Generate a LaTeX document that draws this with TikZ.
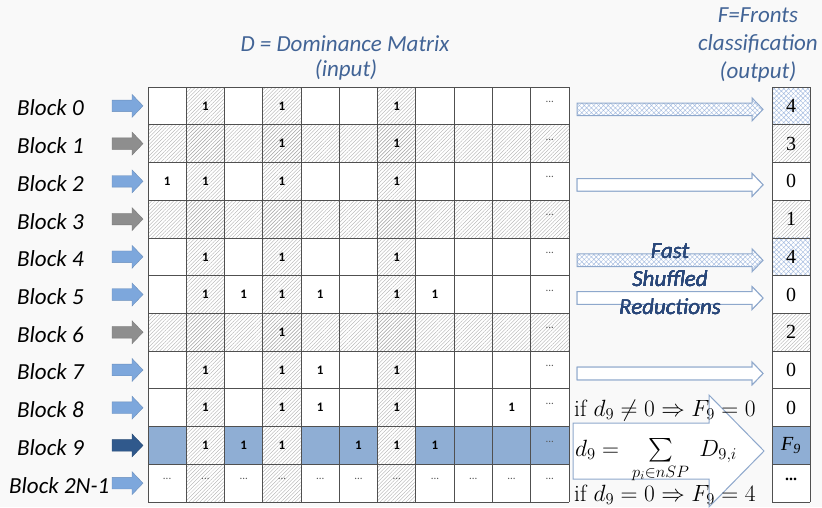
\RequirePackage{fix-cm}
\documentclass[tikz,border=0pt]{standalone}
\usepackage{amsmath,amssymb}
\usepackage{fontspec}
\usepackage{xcolor}
\usepackage{tikz}
\usetikzlibrary{patterns.meta}
\newfontfamily\calfont{Carlito}
\newfontfamily\timesfont{Liberation Serif}

\definecolor{bgcol}{RGB}{249,249,249}
\definecolor{rowblue}{RGB}{143,174,212}
\definecolor{arrblue}{RGB}{125,167,220}
\definecolor{arrgray}{RGB}{142,142,142}
\definecolor{arrdark}{RGB}{48,89,140}
\definecolor{titleblue}{RGB}{66,100,150}
\definecolor{fsrblue}{RGB}{42,72,122}
\definecolor{outblue}{RGB}{142,168,204}
\definecolor{hatchgray}{RGB}{172,172,172}
\definecolor{xhatch}{RGB}{165,188,224}
\definecolor{gridgray}{RGB}{80,80,80}

% block arrow: [opts]{x1}{x2}{y}{shaft half}{head half}{head length}
\newcommand{\fatarrow}[7][]{%
  \draw[#1] ({#2},{#4-#5}) -- ({#3-#7},{#4-#5}) -- ({#3-#7},{#4-#6}) -- ({#3},{#4})
    -- ({#3-#7},{#4+#6}) -- ({#3-#7},{#4+#5}) -- ({#2},{#4+#5}) -- cycle;}

\begin{document}
\begin{tikzpicture}[x=1pt, y=-1pt,
  hatched/.style={pattern={Lines[angle=45,distance=2.6pt,line width=0.35pt]}, pattern color=hatchgray},
  xhatched/.style={pattern={Hatch[angle=45,distance=3.4pt,line width=0.45pt]}, pattern color=xhatch},
  gridline/.style={gridgray, line width=0.8pt},
  blk/.style={font=\calfont\itshape\fontsize{23}{28}\selectfont, inner sep=0pt},
  one/.style={font=\calfont\bfseries\fontsize{13}{13}\selectfont, inner sep=0pt},
  dots/.style={font=\calfont\fontsize{11}{11}\selectfont, text=gray!70!black, inner sep=0pt},
  fval/.style={font=\timesfont\fontsize{20}{20}\selectfont, inner sep=0pt},
  fml/.style={font=\fontsize{23.5}{28}\selectfont, inner sep=0pt}]

  \useasboundingbox (0,0) rectangle (822,507);
  \fill[bgcol] (0,0) rectangle (822,507);

  % Dominance matrix cells
  \fill[white] (148,87) rectangle (569,502);
  \foreach \c in {0,2,4,5,7,8,9,10}
    \fill[rowblue] ({148+\c*38.27},{87+9*37.73}) rectangle ({148+(\c+1)*38.27},{87+10*37.73});
  \foreach \c in {1,3,6}
    \fill[hatched] ({148+\c*38.27},87) rectangle ({148+(\c+1)*38.27},502);
  \foreach \r in {1,3,6}
    \fill[hatched] (148,{87+\r*37.73}) rectangle (569,{87+(\r+1)*37.73});
  \foreach \c in {0,...,11}
    \draw[gridline] ({148+\c*38.27},87) -- ({148+\c*38.27},502);
  \foreach \r in {0,...,11}
    \draw[gridline] (148,{87+\r*37.73}) -- (569,{87+\r*37.73});

  % Entries
  \foreach \r/\cols in {0/{1,3,6},1/{3,6},2/{0,1,3,6},4/{1,3,6},5/{1,2,3,4,6,7},
                        6/{3},7/{1,3,4,6},8/{1,3,4,6,9},9/{1,2,3,5,6,7}}
    \foreach \c in \cols
      \node[one] (d-\r-\c) at ({148+(\c+0.5)*38.27},{87+(\r+0.5)*37.73}) {1};
  \foreach \r in {0,...,9}
    \node[dots] (dd-\r) at ({148+10.5*38.27},{87+(\r+0.5)*37.73-4}) {...};
  \foreach \c in {0,...,10}
    \node[dots] (dl-\c) at ({148+(\c+0.5)*38.27},{87+10.5*37.73-4}) {...};

  % Block labels and input arrows
  \foreach \r/\col in {0/arrblue,1/arrgray,2/arrblue,3/arrgray,4/arrblue,5/arrblue,
                       6/arrgray,7/arrblue,8/arrblue,9/arrdark} {
    \node[blk, anchor=base west] (blk\r) at (17,{87+(\r+0.5)*37.73+10}) {Block \r};
    \fatarrow[fill=\col, draw=\col!85!black, line width=0.4pt]{112}{143}{87+(\r+0.5)*37.73}{5.8}{11.5}{11}
  }
  \node[blk, anchor=base west] (blkN) at (9,{87+10.5*37.73+10}) {Block 2N-1};
  \fatarrow[fill=arrblue, draw=arrblue!85!black, line width=0.4pt]{112}{143}{87+10.5*37.73}{5.8}{11.5}{11}

  % Titles
  \node[blk, text=titleblue] (dtitle) at (345,44) {D = Dominance Matrix};
  \node[blk, text=titleblue] (dinput) at (346,70) {(input)};
  \node[blk, text=titleblue, align=center] (ftitle) at (758,45)
    {F=Fronts\\classification\\(output)};

  % Fronts column
  \fill[white] (772,87) rectangle (810,502);
  \foreach \r in {0,4}
    \fill[xhatched] (772,{87+\r*37.73}) rectangle (810,{87+(\r+1)*37.73});
  \foreach \r in {1,3,6}
    \fill[hatched] (772,{87+\r*37.73}) rectangle (810,{87+(\r+1)*37.73});
  \fill[rowblue] (772,{87+9*37.73}) rectangle (810,{87+10*37.73});
  \draw[gridline] (772,87) -- (772,502);
  \draw[gridline] (810,87) -- (810,502);
  \foreach \r in {0,...,11}
    \draw[gridline] (772,{87+\r*37.73}) -- (810,{87+\r*37.73});
  \foreach \r/\v in {0/4,1/3,2/0,3/1,4/4,5/0,6/2,7/0,8/0}
    \node[fval] (f-\r) at (791,{87+(\r+0.5)*37.73}) {\v};
  \node[fval] (f-9) at (791,{87+9.5*37.73}) {\itshape F\textsubscript{9}};
  \node[fval, font=\timesfont\bfseries\fontsize{16}{16}\selectfont] (f-10) at (791,{87+10.5*37.73-4}) {...};

  % Reduction arrows
  \foreach \r in {0,4}
    \fatarrow[draw=outblue, line width=1pt, xhatched, preaction={fill=white}]{577}{763}{87+(\r+0.5)*37.73+3.5}{6.3}{11.5}{11}
  \foreach \r in {2,5,7}
    \fatarrow[draw=outblue, line width=1pt, fill=white]{577}{763}{87+(\r+0.5)*37.73+3.5}{6.3}{11.5}{11}
  \node[blk, text=fsrblue, align=center] (fsr) at (670,279) {Fast\\Shuffled\\Reductions};

  % Reduction of block 9
  \fatarrow[draw=outblue, line width=1pt, fill=white]{573}{764}{451}{28}{56}{55}
  \node[fml, anchor=base west] (cond1) at (574,416) {if $d_9 \neq 0 \Rightarrow F_9 = 0$};
  \node[fml, anchor=base west] (dsum) at (575,456) {$d_9 = \;\sum\limits_{p_i\in nSP}\; D_{9,i}$};
  \node[fml, anchor=base west] (cond0) at (574,501) {if $d_9 = 0 \Rightarrow F_9 = 4$};
\end{tikzpicture}
\end{document}
